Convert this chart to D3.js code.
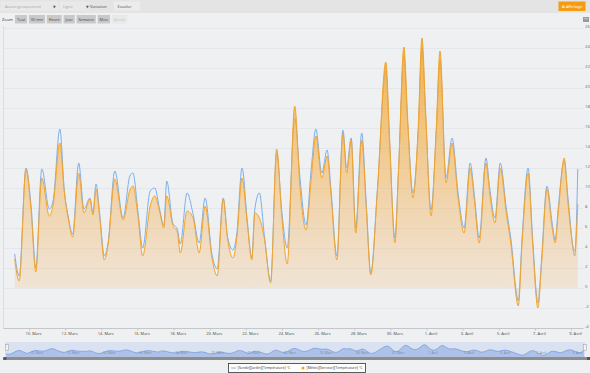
<!DOCTYPE html>
<html>
<head>
<meta charset="utf-8">
<script src="https://cdn.jsdelivr.net/npm/d3@7"></script>
<style>
    html, body { margin: 0; padding: 0; background: #eff0f2; overflow: hidden; }
    svg { display: block; font-family: "Open Sans", "DejaVu Sans", sans-serif; }
</style>
</head>
<body>
<div id="chart"></div>
<script>

// Readings : hours since 9 March 00:00
var hours = [5, 11, 20, 27, 33, 41, 51, 56, 65, 71, 76, 82, 90, 97, 105, 109, 113, 118, 124, 129,
    138, 149, 158, 162, 169, 175, 185, 191, 198, 203, 207, 215, 221, 225, 234, 242, 250, 258, 267, 274,
    282, 288, 295, 300, 307, 314, 320, 324, 330, 337, 345, 353, 360, 367, 377, 384, 392, 399, 405, 413,
    420, 425, 433, 441, 446, 452, 458, 466, 472, 478, 487, 498, 503, 510, 515, 522, 527, 534, 541, 546,
    551, 558, 565, 570, 578, 586, 594, 602, 610, 616, 622, 631, 636, 643, 650, 658, 664, 674, 679, 687,
    693, 700, 705, 712, 719, 723, 727, 735, 740, 749, 753];

// [Sonde][Jardin][Température] °C
var sondeJardin = [3.4, 1.2, 12.0, 8.0, 2.0, 11.9, 7.9, 8.7, 15.9, 9.7, 7.2, 5.4, 12.5, 7.9, 9.0, 7.5, 10.4, 7.4, 3.2, 4.5,
    11.7, 7.0, 11.2, 11.5, 7.5, 4.0, 9.7, 10.0, 7.7, 6.2, 10.7, 6.5, 5.9, 4.4, 9.5, 7.4, 4.5, 9.0, 3.4, 1.9,
    9.0, 5.0, 3.8, 5.4, 12.0, 6.7, 3.0, 7.9, 9.5, 5.0, 0.7, 13.5, 7.5, 4.0, 17.0, 11.0, 6.3, 12.0, 15.9, 11.5,
    13.8, 10.0, 3.2, 15.8, 12.0, 15.0, 6.0, 15.5, 8.5, 1.5, 10.0, 21.8, 14.5, 5.0, 12.0, 23.2, 16.5, 9.5, 15.5, 24.0,
    17.0, 7.8, 15.5, 22.8, 11.0, 15.0, 9.5, 6.0, 12.5, 9.0, 5.0, 13.0, 10.0, 7.0, 12.5, 8.0, 5.0, -1.3, 5.0, 12.0,
    5.0, -1.5, 3.0, 10.2, 6.5, 4.8, 8.0, 12.7, 9.0, 3.2, 11.9];

// [Météo][Serveur][Température] °C
var meteoServeur = [2.9, 0.7, 11.9, 7.5, 1.6, 11.0, 7.2, 8.3, 14.5, 9.5, 7.0, 5.1, 11.5, 7.5, 8.9, 7.3, 9.9, 7.0, 2.8, 4.3,
    10.9, 6.8, 9.8, 10.2, 7.0, 3.2, 8.2, 9.2, 7.5, 6.0, 9.2, 6.3, 5.6, 3.5, 7.7, 7.0, 3.5, 8.2, 3.0, 1.2,
    8.9, 4.8, 3.0, 5.0, 11.0, 6.4, 2.8, 7.5, 7.0, 4.8, 0.5, 13.9, 7.0, 2.4, 18.2, 10.0, 5.8, 11.0, 15.2, 11.0,
    13.2, 9.5, 2.8, 15.5, 11.5, 14.8, 5.5, 14.8, 8.0, 1.3, 10.0, 22.6, 15.0, 4.5, 12.0, 24.1, 17.0, 9.0, 16.0, 25.0,
    17.5, 7.2, 16.0, 23.7, 10.5, 14.5, 9.0, 5.5, 12.0, 8.5, 4.5, 12.5, 9.5, 6.5, 12.0, 7.5, 4.5, -1.8, 4.5, 11.5,
    4.5, -2.0, 2.5, 9.9, 6.0, 4.5, 7.5, 13.0, 8.5, 3.7, 8.4];

var yTicks = [-4, -2, 0, 2, 4, 6, 8, 10, 12, 14, 16, 18, 20, 22, 24, 26];
var xTickDates = ["2014-03-10", "2014-03-12", "2014-03-14", "2014-03-16", "2014-03-18", "2014-03-20",
    "2014-03-22", "2014-03-24", "2014-03-26", "2014-03-28", "2014-03-30", "2014-04-01", "2014-04-03",
    "2014-04-05", "2014-04-07", "2014-04-09"];
var monthNames = ["Janvier", "Février", "Mars", "Avril", "Mai", "Juin", "Juillet", "Août",
    "Septembre", "Octobre", "Novembre", "Décembre"];
var zoomButtons = ["Tout", "30 min", "Heure", "Jour", "Semaine", "Mois", "Année"];
var seriesNames = ["[Sonde][Jardin][Température] °C", "[Météo][Serveur][Température] °C"];

var blue = "#7cb0ea",
    orange = "#f4a42c";

var start = new Date(2014, 2, 9);
var toDate = function ( h ) { return new Date( start.getTime() + h * 3600e3 ); };
var parseDay = d3.timeParse("%Y-%m-%d");
var fmtDay = function ( d ) { return d.getDate() + ". " + monthNames[ d.getMonth() ]; };

var rows = hours.map(function ( h, i ) {
    return { t: toDate( h ), sonde: sondeJardin[i], meteo: meteoServeur[i] };
});

var svg = d3.select("#chart").append("svg")
    .attr("width", 590)
    .attr("height", 373);

// Toolbar

svg.append("rect")
    .attr("x", 0).attr("y", 0)
    .attr("width", 590).attr("height", 13)
    .style("fill", "#e4e4e5");

svg.append("rect")
    .attr("x", 1).attr("y", 1.5)
    .attr("width", 57).attr("height", 9)
    .style("fill", "#e9e9ea");

svg.append("text")
    .attr("x", 5).attr("y", 7.6)
    .text("Aucun groupement")
    .style("font-size", "4px")
    .style("fill", "#a5a5a5");

svg.append("text")
    .attr("x", 53).attr("y", 7.6)
    .text("▼")
    .style("font-size", "3.5px")
    .style("fill", "#555");

svg.append("rect")
    .attr("x", 60).attr("y", 1.5)
    .attr("width", 29).attr("height", 9)
    .style("fill", "#e9e9ea");

svg.append("text")
    .attr("x", 63).attr("y", 7.6)
    .text("Ligne")
    .style("font-size", "4px")
    .style("fill", "#a5a5a5");

svg.append("text")
    .attr("x", 86).attr("y", 7.6)
    .text("▼")
    .style("font-size", "3.5px")
    .style("fill", "#555");

svg.append("text")
    .attr("x", 90).attr("y", 7.6)
    .text("Variation")
    .style("font-size", "4px")
    .style("fill", "#444");

svg.append("rect")
    .attr("x", 114).attr("y", 1.5)
    .attr("width", 26).attr("height", 9)
    .style("fill", "#ececed");

svg.append("text")
    .attr("x", 117.5).attr("y", 7.6)
    .text("Escalier")
    .style("font-size", "4px")
    .style("fill", "#444");

svg.append("rect")
    .attr("x", 558.5).attr("y", 1.5)
    .attr("width", 27).attr("height", 9.5)
    .style("fill", "#f39c12");

svg.append("text")
    .attr("x", 572).attr("y", 7.8)
    .attr("text-anchor", "middle")
    .text("⊠ Affichage")
    .style("font-size", "3.8px")
    .style("fill", "#fff");

// Zoom buttons

svg.append("text")
    .attr("x", 2).attr("y", 20.5)
    .text("Zoom")
    .style("font-size", "4px")
    .style("fill", "#333");

var bx = 15;
zoomButtons.forEach(function ( name, i ) {
    var g = svg.append("g");
    var r = g.append("rect")
        .attr("y", 15).attr("height", 8.5)
        .style("fill", i === zoomButtons.length - 1 ? "#e8e8e9" : "#c9c9ca");
    var t = g.append("text")
        .attr("y", 20.6)
        .text( name )
        .style("font-size", "3.8px")
        .style("fill", i === zoomButtons.length - 1 ? "#c5c5c5" : "#444");
    var w = t.node().getComputedTextLength() + 4;
    r.attr("x", bx).attr("width", w);
    t.attr("x", bx + 2);
    bx += w + 1.8;
});

// Export icon

svg.append("rect")
    .attr("x", 583).attr("y", 17)
    .attr("width", 6).attr("height", 5)
    .style("fill", "#9a9a9a");

svg.append("rect")
    .attr("x", 584).attr("y", 18.5)
    .attr("width", 4).attr("height", 0.6)
    .style("fill", "#ddd");

// Scales

var x = d3.scaleTime()
    .domain([ new Date(2014, 2, 8, 13, 28), new Date(2014, 3, 9, 15, 56) ])
    .range([ 3, 583 ]);

var y = d3.scaleLinear()
    .domain([ -4, 26 ])
    .range([ 328, 28 ]);

// Grid

svg.append("g")
    .selectAll("line")
    .data( yTicks )
    .enter().append("line")
    .attr("x1", 3).attr("x2", 583)
    .attr("y1", function ( d ) { return Math.round( y( d ) ) + 0.5; })
    .attr("y2", function ( d ) { return Math.round( y( d ) ) + 0.5; })
    .style("stroke", "#e1e3e7")
    .style("stroke-width", 0.8);

svg.append("line")
    .attr("x1", 3.5).attr("x2", 3.5)
    .attr("y1", 26).attr("y2", 328)
    .style("stroke", "#dcdde0")
    .style("stroke-width", 1);

svg.append("g")
    .selectAll("text")
    .data( yTicks )
    .enter().append("text")
    .attr("x", 585)
    .attr("y", function ( d ) { return y( d ) - 0.3; })
    .text(function ( d ) { return d; })
    .style("font-size", "4.2px")
    .style("fill", "#666");

// Orange gradient

var gradient = svg.append("defs")
    .append("linearGradient")
    .attr("id", "orangeFill")
    .attr("gradientUnits", "userSpaceOnUse")
    .attr("x1", 0).attr("y1", 28)
    .attr("x2", 0).attr("y2", 288);

gradient.append("stop")
    .attr("offset", "0%")
    .attr("stop-color", "#f5a623")
    .attr("stop-opacity", 0.9);

gradient.append("stop")
    .attr("offset", "100%")
    .attr("stop-color", "#f2b870")
    .attr("stop-opacity", 0.22);

// Series

var area = d3.area()
    .x(function ( d ) { return x( d.t ); })
    .y0( y( 0 ) )
    .y1(function ( d ) { return y( d.meteo ); })
    .curve( d3.curveMonotoneX );

var lineMeteo = d3.line()
    .x(function ( d ) { return x( d.t ); })
    .y(function ( d ) { return y( d.meteo ); })
    .curve( d3.curveMonotoneX );

var lineSonde = d3.line()
    .x(function ( d ) { return x( d.t ); })
    .y(function ( d ) { return y( d.sonde ); })
    .curve( d3.curveMonotoneX );

svg.append("path")
    .datum( rows )
    .attr("d", lineSonde)
    .style("fill", "none")
    .style("stroke", blue)
    .style("stroke-width", 1);

svg.append("path")
    .datum( rows )
    .attr("d", area)
    .style("fill", "url(#orangeFill)");

svg.append("path")
    .datum( rows )
    .attr("d", lineMeteo)
    .style("fill", "none")
    .style("stroke", orange)
    .style("stroke-width", 1);

// X axis

var xAxis = svg.append("g")
    .attr("transform", "translate(0,328)")
    .call( d3.axisBottom( x )
        .tickValues( xTickDates.map( parseDay ) )
        .tickFormat( fmtDay )
        .tickSize( 2.5 )
        .tickSizeOuter( 0 ) );

xAxis.select(".domain").style("stroke", "#c4c6ca");
xAxis.selectAll(".tick line").style("stroke", "#c4c6ca");
xAxis.selectAll(".tick text")
    .attr("dx", 4)
    .attr("y", 4)
    .attr("fill", "#444")
    .style("font-size", "4px")
    .style("font-family", "\"Open Sans\", sans-serif")
    .style("fill", "#444");

// Navigator

var navX = d3.scaleTime()
    .domain( d3.extent( rows, function ( d ) { return d.t; } ) )
    .range([ 6, 584 ]);

var navY = d3.scaleLinear()
    .domain([ -3, 26 ])
    .range([ 357, 342.5 ]);

svg.append("rect")
    .attr("x", 5).attr("y", 342)
    .attr("width", 580).attr("height", 15)
    .style("fill", "#dae2f1");

svg.append("path")
    .datum( rows )
    .attr("d", d3.area()
        .x(function ( d ) { return navX( d.t ); })
        .y0( 357 )
        .y1(function ( d ) { return navY( d.sonde ); })
        .curve( d3.curveBasis ))
    .style("fill", "#aec2e8");

svg.append("path")
    .datum( rows )
    .attr("d", d3.line()
        .x(function ( d ) { return navX( d.t ); })
        .y(function ( d ) { return navY( d.sonde ); })
        .curve( d3.curveBasis ))
    .style("fill", "none")
    .style("stroke", "#7095d8")
    .style("stroke-width", 0.7);

// navigator labels sit just right of the main ticks
svg.append("g")
    .selectAll("text")
    .data( xTickDates.map( parseDay ) )
    .enter().append("text")
    .attr("x", function ( d ) { return x( d ) + 1.5; })
    .attr("y", 354)
    .text( fmtDay )
    .style("font-size", "3.2px")
    .style("fill", "#7a86a0");

// Navigator handles

[ 5, 583 ].forEach(function ( hx ) {
    svg.append("rect")
        .attr("x", hx + 0.5).attr("y", 344.5)
        .attr("width", 3).attr("height", 6)
        .style("fill", "#f2f2f2")
        .style("stroke", "#999")
        .style("stroke-width", 0.5);
});

// Scrollbar

svg.append("rect")
    .attr("x", 3).attr("y", 357)
    .attr("width", 587).attr("height", 3)
    .style("fill", "#8d8d8e");

svg.append("circle")
    .attr("cx", 5).attr("cy", 358.5)
    .attr("r", 1.6)
    .style("fill", "#555");

svg.append("rect")
    .attr("x", 587).attr("y", 357)
    .attr("width", 3).attr("height", 3)
    .style("fill", "#555");

// Legend

var legend = svg.append("g");

legend.append("rect")
    .attr("x", 228.5).attr("y", 363.5)
    .attr("width", 137).attr("height", 9)
    .style("fill", "#fff")
    .style("stroke", "#333")
    .style("stroke-width", 0.8);

legend.append("line")
    .attr("x1", 231).attr("x2", 236)
    .attr("y1", 368).attr("y2", 368)
    .style("stroke", blue)
    .style("stroke-width", 1);

legend.append("text")
    .attr("x", 237.5).attr("y", 369.3)
    .text( seriesNames[0] )
    .style("font-size", "3.5px")
    .style("fill", "#333");

legend.append("circle")
    .attr("cx", 303).attr("cy", 368)
    .attr("r", 1.6)
    .style("fill", orange);

legend.append("text")
    .attr("x", 306.5).attr("y", 369.3)
    .text( seriesNames[1] )
    .style("font-size", "3.5px")
    .style("fill", "#333");

</script>
</body>
</html>
